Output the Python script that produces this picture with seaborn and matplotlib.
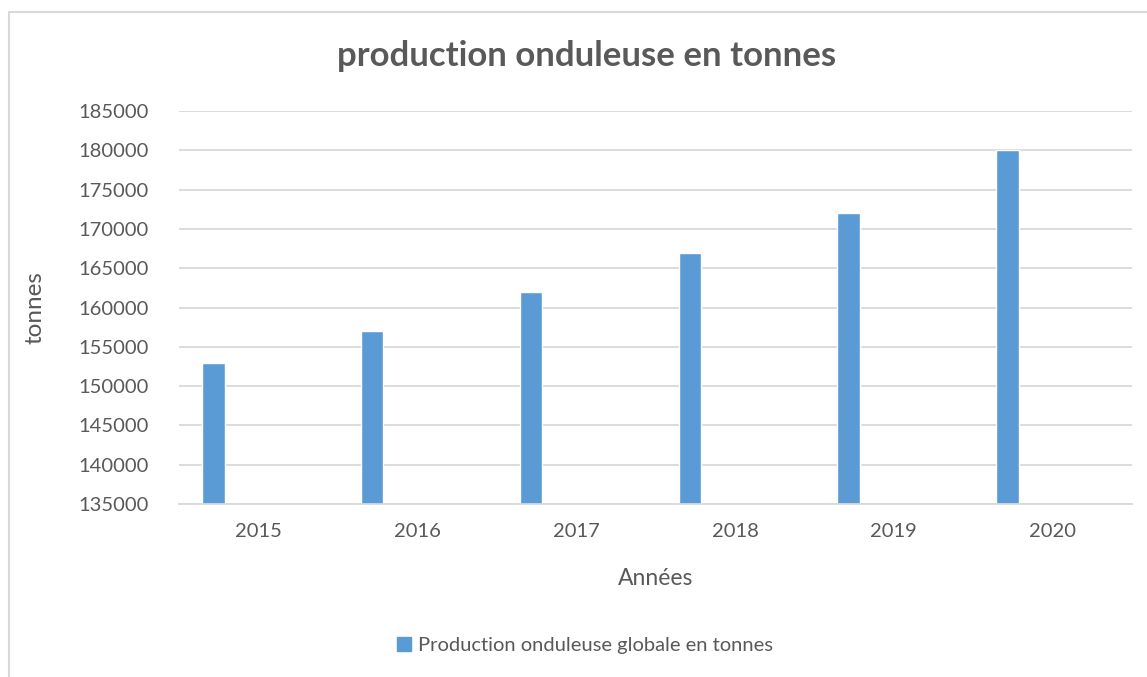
import numpy as np
import pandas as pd
import matplotlib
matplotlib.use('Agg')
import matplotlib.pyplot as plt
import matplotlib.patches as mpatches
import seaborn as sns

# Data
annees = ['2015', '2016', '2017', '2018', '2019', '2020']
production = [153000, 157000, 162000, 167000, 172000, 180000]
serie = 'Production onduleuse globale en tonnes'
# empty series slots in the original workbook (no values shown)
series_vides = [' ', '  ', '   ', '    ']
y_ticks = [135000, 140000, 145000, 150000, 155000, 160000, 165000, 170000, 175000, 180000, 185000]

df = pd.DataFrame({'Année': annees, 'tonnes': production, 'serie': serie})

sns.set_theme(style='white')
plt.rcParams['font.family'] = ['Lato', 'DejaVu Sans']

gris = '#595959'
bleu = '#5B9BD5'

fig = plt.figure(figsize=(11.47, 6.77), dpi=100)
ax = fig.add_axes([0.156, 0.2555, 0.831, 0.5805])

sns.barplot(data=df, x='Année', y='tonnes', hue='serie',
            hue_order=[serie] + series_vides, palette=[bleu] * 5,
            width=0.71, dodge=True, saturation=1, ax=ax, legend=False)

ax.set_ylim(135000, 185000)
ax.set_yticks(y_ticks)
ax.set_yticklabels([str(v) for v in y_ticks])
ax.yaxis.grid(True, color='#D9D9D9', linewidth=1.3)
ax.set_axisbelow(True)
for s in ['top', 'right', 'left']:
    ax.spines[s].set_visible(False)
ax.spines['bottom'].set_color('#D9D9D9')
ax.spines['bottom'].set_linewidth(1.3)
ax.tick_params(axis='both', length=0, labelsize=14.5, colors=gris)
ax.tick_params(axis='y', pad=22)
ax.tick_params(axis='x', pad=14)

ax.set_xlabel('Années', fontsize=16.5, color=gris, labelpad=20)
ax.set_ylabel('tonnes', fontsize=17.5, color=gris)
ax.yaxis.set_label_coords(-0.14, 0.5)

fig.text(0.511, 0.918, 'production onduleuse en tonnes', ha='center', va='center',
         fontsize=25, fontweight='bold', color=gris)

handle = mpatches.Patch(color=bleu, label=serie)
fig.legend(handles=[handle], loc='center', bbox_to_anchor=(0.51, 0.047),
           frameon=False, fontsize=14.5, labelcolor=gris,
           handlelength=0.7, handleheight=0.7, handletextpad=0.3)

# light border of the chart area
fig.patches.append(mpatches.Rectangle((0.008, -0.01), 1.0, 0.993, transform=fig.transFigure,
                                      fill=False, edgecolor='#D9D9D9', linewidth=1.5))

fig.savefig('out.png', dpi=100)
